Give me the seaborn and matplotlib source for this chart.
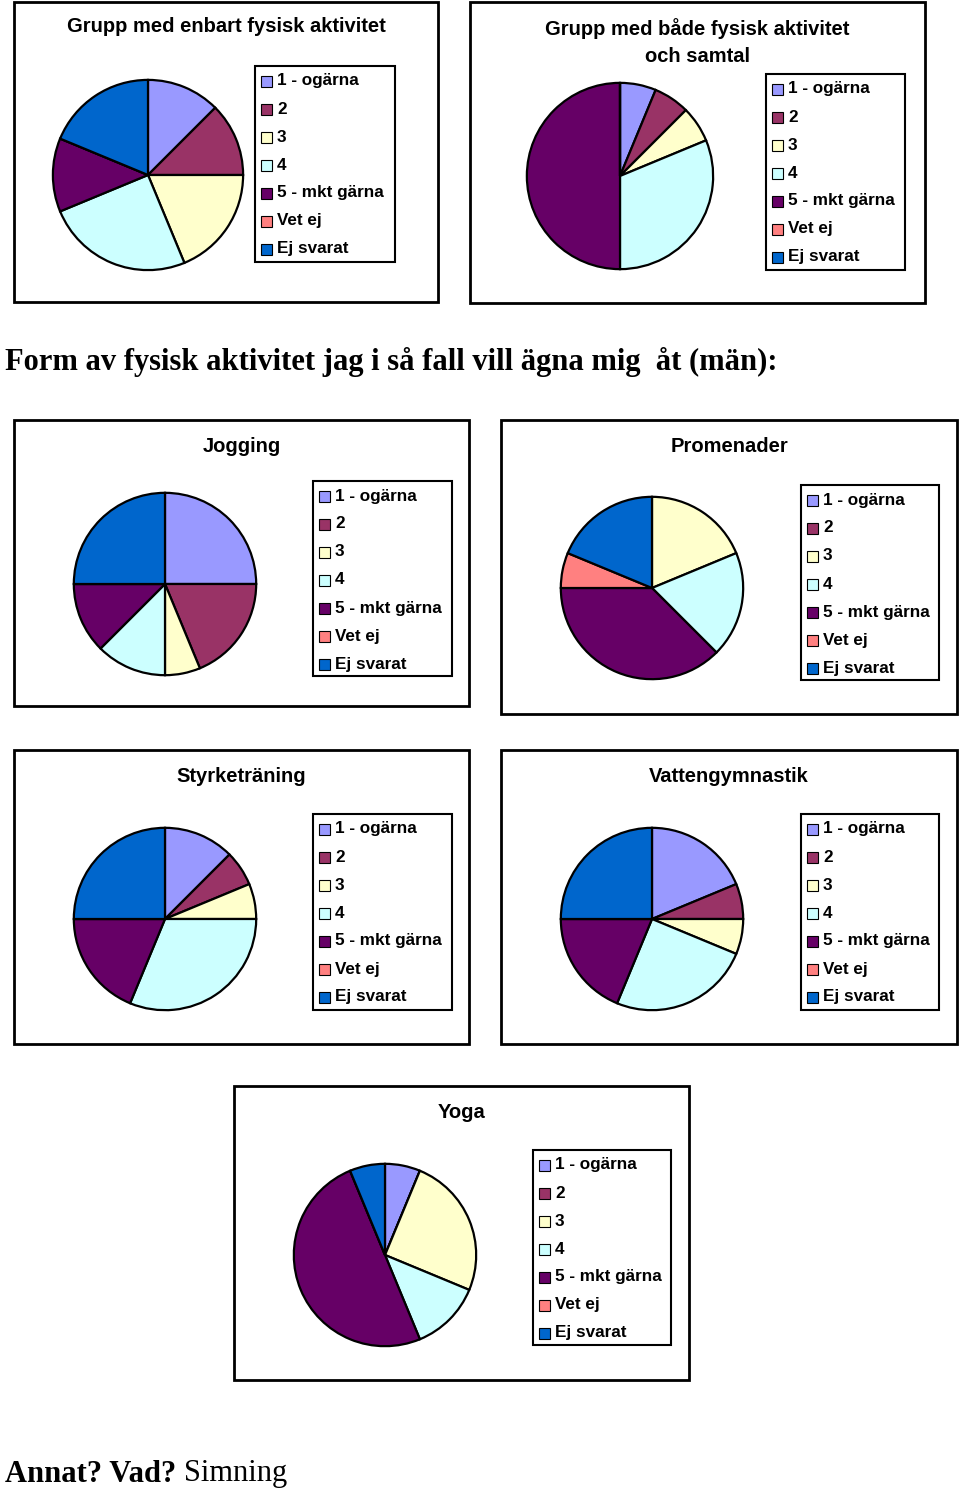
import matplotlib
matplotlib.use('Agg')
from matplotlib import pyplot as plt
from matplotlib.patches import Rectangle
import seaborn as sns

# svarskategorier och färger
labels = ['1 - ogärna', '2', '3', '4', '5 - mkt gärna', 'Vet ej', 'Ej svarat']
colors = ['#9999FF', '#993366', '#FFFFCC', '#CCFFFF', '#660066', '#FF8080', '#0066CC']

# antal svar per kategori (16 svarande)
enbart = [2, 2, 3, 4, 2, 0, 3]
bade = [1, 1, 1, 5, 8, 0, 0]
jogging = [4, 3, 1, 2, 2, 0, 4]
promenader = [0, 0, 3, 3, 6, 1, 3]
styrke = [2, 1, 1, 5, 3, 0, 4]
vatten = [3, 1, 1, 4, 3, 0, 4]
yoga = [1, 0, 4, 2, 8, 0, 1]

sns.set_theme(style='white')
plt.rcParams['font.family'] = ['Liberation Sans', 'DejaVu Sans']
plt.rcParams['text.color'] = 'black'

W, H = 960, 1492
fig = plt.figure(figsize=(W / 100, H / 100), dpi=100)
pal = sns.color_palette(colors)


def fx(x):
    return x / W


def fy(y):
    return 1 - y / H


def panel(box, title, title_y, center, r, legbox, values):
    x0, y0, x1, y1 = box
    fig.patches.append(Rectangle((fx(x0), fy(y1)), fx(x1) - fx(x0), fy(y0) - fy(y1),
                                 transform=fig.transFigure, fill=False,
                                 edgecolor='black', linewidth=2))
    fig.text(fx((x0 + x1) / 2), fy(title_y), title, ha='center', va='center',
             fontsize=14.5, fontweight='bold', linespacing=1.5)
    cx, cy = center
    ax = fig.add_axes([fx(cx - r), fy(cy + r), 2 * r / W, 2 * r / H])
    ax.pie(values, colors=pal, startangle=90, counterclock=False,
           wedgeprops=dict(edgecolor='black', linewidth=1.6))
    ax.set_xlim(-1.02, 1.02)
    ax.set_ylim(-1.02, 1.02)
    ax.set_aspect('equal')
    ax.axis('off')
    # förklaring
    lx0, ly0, lx1, ly1 = legbox
    fig.patches.append(Rectangle((fx(lx0), fy(ly1)), fx(lx1) - fx(lx0), fy(ly0) - fy(ly1),
                                 transform=fig.transFigure, fill=False,
                                 edgecolor='black', linewidth=1.5))
    for i, (lab, col) in enumerate(zip(labels, pal)):
        yy = ly0 + 15 + 28 * i
        fig.patches.append(Rectangle((fx(lx0 + 6), fy(yy + 6)), 11 / W, 11 / H,
                                     transform=fig.transFigure, facecolor=col,
                                     edgecolor='black', linewidth=0.8))
        fig.text(fx(lx0 + 22), fy(yy), lab, ha='left', va='center',
                 fontsize=12.3, fontweight='bold')


panel((14, 2, 438, 302), 'Grupp med enbart fysisk aktivitet', 26,
      (148, 175), 97, (255, 66, 395, 262), enbart)
panel((470, 2, 925, 303), 'Grupp med både fysisk aktivitet\noch samtal', 42,
      (620, 176), 95, (766, 74, 905, 270), bade)
panel((14, 420, 469, 706), 'Jogging', 446,
      (165, 584), 93, (313, 481, 452, 676), jogging)
panel((501, 420, 957, 714), 'Promenader', 446,
      (652, 588), 93, (801, 485, 939, 680), promenader)
panel((14, 750, 469, 1044), 'Styrketräning', 776,
      (165, 919), 93, (313, 814, 452, 1010), styrke)
panel((501, 750, 957, 1044), 'Vattengymnastik', 776,
      (652, 919), 93, (801, 814, 939, 1010), vatten)
panel((234, 1086, 689, 1380), 'Yoga', 1112,
      (385, 1255), 93, (533, 1150, 671, 1345), yoga)

serif = ['Liberation Serif', 'DejaVu Serif']
fig.text(fx(5), fy(362), 'Form av fysisk aktivitet jag i så fall vill ägna mig  åt (män):',
         ha='left', va='center', fontsize=22, fontweight='bold', family=serif)
t = fig.text(fx(5), fy(1474), 'Annat? Vad? ', ha='left', va='center',
             fontsize=22, fontweight='bold', family=serif)
fig.canvas.draw()
bb = t.get_window_extent()
fig.text(bb.x1 / W, fy(1474), 'Simning', ha='left', va='center',
         fontsize=22, family=serif)

fig.savefig('out.png', dpi=100, facecolor='white')
